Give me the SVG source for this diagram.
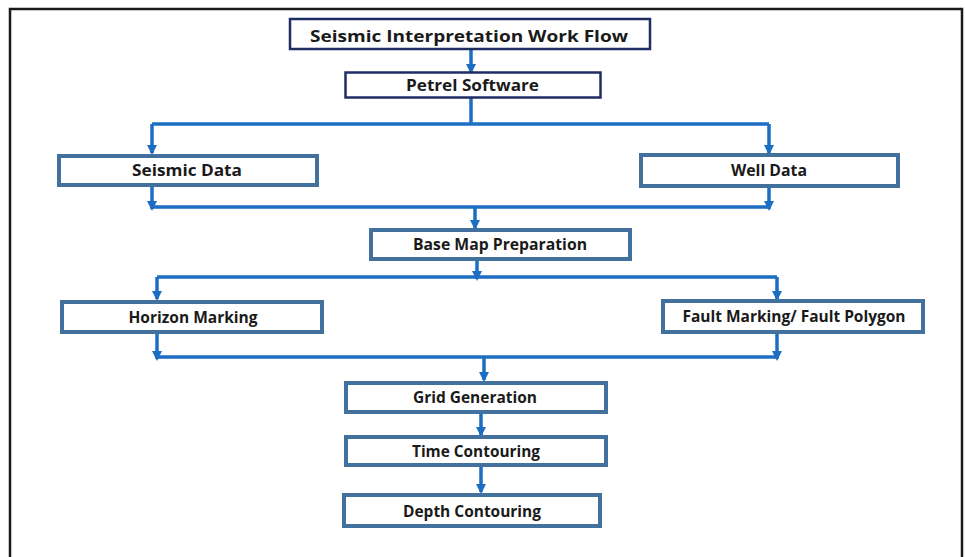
<svg xmlns="http://www.w3.org/2000/svg" width="965" height="557" viewBox="0 0 965 557">
<defs>
<marker id="ah" markerWidth="10" markerHeight="10" refX="8" refY="5" orient="auto" markerUnits="userSpaceOnUse">
<path d="M0,0 L10,5 L0,10 Z" fill="#1b6ec2"/>
</marker>
</defs>
<style>
.box{fill:#fff;stroke:#41719c;stroke-width:4}
.hdr{fill:#fff;stroke:#1f2d63;stroke-width:2.5}
.t{font-family:"Open Sans","Liberation Sans",sans-serif;font-weight:bold;font-size:16px;fill:#1a1a1a;text-anchor:middle}
.c{fill:none;stroke:#1b6ec2;stroke-width:3.5}
.a{fill:none;stroke:#1b6ec2;stroke-width:3.5;marker-end:url(#ah)}
</style>
<rect width="965" height="557" fill="#fff"/>
<path d="M10,560 L10,9 L962,9 L962,560" fill="none" stroke="#1a1a1a" stroke-width="2.5"/>
<g id="connectors">
<line class="a" x1="471" y1="50" x2="471" y2="72"/>
<line class="c" x1="471" y1="97" x2="471" y2="124"/>
<polyline class="c" points="152,124 769,124"/>
<line class="a" x1="152" y1="124" x2="152" y2="153"/>
<line class="a" x1="769" y1="124" x2="769" y2="153"/>
<line class="a" x1="152" y1="186" x2="152" y2="209"/>
<line class="a" x1="769" y1="186" x2="769" y2="209"/>
<polyline class="c" points="152,207 769,207"/>
<line class="a" x1="475" y1="207" x2="475" y2="228"/>
<line class="a" x1="477" y1="260" x2="477" y2="279"/>
<polyline class="c" points="157,277 777,277"/>
<line class="a" x1="157" y1="277" x2="157" y2="299"/>
<line class="a" x1="777" y1="277" x2="777" y2="299"/>
<line class="a" x1="157" y1="333" x2="157" y2="359"/>
<line class="a" x1="777" y1="333" x2="777" y2="359"/>
<polyline class="c" points="157,357 777,357"/>
<line class="a" x1="484" y1="357" x2="484" y2="380"/>
<line class="a" x1="481" y1="413" x2="481" y2="435"/>
<line class="a" x1="481" y1="467" x2="481" y2="492"/>
</g>
<g id="title">
<rect class="hdr" x="290" y="19" width="360" height="30"/>
<text class="t" x="469" y="42" font-size="20" textLength="318" lengthAdjust="spacingAndGlyphs">Seismic Interpretation Work Flow</text>
</g>
<g id="petrel">
<rect class="hdr" x="345.5" y="72.5" width="255" height="25"/>
<text class="t" x="472.5" y="91" textLength="133" lengthAdjust="spacingAndGlyphs">Petrel Software</text>
</g>
<g id="seismic">
<rect class="box" x="59" y="156" width="258" height="29"/>
<text class="t" x="187" y="176" textLength="110" lengthAdjust="spacingAndGlyphs">Seismic Data</text>
</g>
<g id="well">
<rect class="box" x="641" y="155" width="257" height="31"/>
<text class="t" x="769" y="176" textLength="76" lengthAdjust="spacingAndGlyphs">Well Data</text>
</g>
<g id="basemap">
<rect class="box" x="371" y="230" width="259" height="29"/>
<text class="t" x="500" y="250" textLength="174" lengthAdjust="spacingAndGlyphs">Base Map Preparation</text>
</g>
<g id="horizon">
<rect class="box" x="62" y="302" width="260" height="30"/>
<text class="t" x="193" y="323" textLength="129" lengthAdjust="spacingAndGlyphs">Horizon Marking</text>
</g>
<g id="fault">
<rect class="box" x="663" y="301" width="260" height="31"/>
<text class="t" x="794" y="322" textLength="223" lengthAdjust="spacingAndGlyphs">Fault Marking/ Fault Polygon</text>
</g>
<g id="grid">
<rect class="box" x="346" y="383" width="260" height="29"/>
<text class="t" x="475" y="403" textLength="124" lengthAdjust="spacingAndGlyphs">Grid Generation</text>
</g>
<g id="time">
<rect class="box" x="346" y="437" width="260" height="28"/>
<text class="t" x="476" y="457" textLength="128" lengthAdjust="spacingAndGlyphs">Time Contouring</text>
</g>
<g id="depth">
<rect class="box" x="344" y="495" width="256" height="31"/>
<text class="t" x="472" y="517" textLength="138" lengthAdjust="spacingAndGlyphs">Depth Contouring</text>
</g>
</svg>
